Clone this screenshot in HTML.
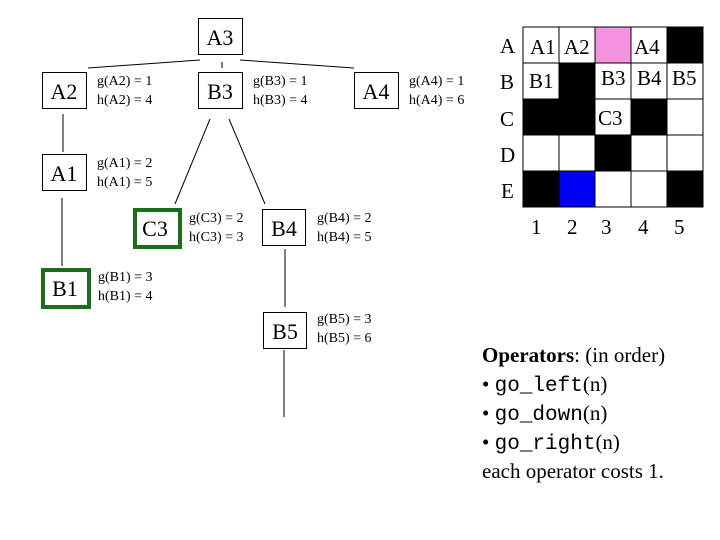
<!DOCTYPE html>
<html><head><meta charset="utf-8"><style>
html,body{margin:0;padding:0;background:#fff;}
svg{display:block;}
.n{font-family:"Liberation Serif",serif;font-size:22px;}
.s{font-family:"Liberation Serif",serif;font-size:14px;}
.g{font-family:"Liberation Serif",serif;font-size:21px;}
.o{font-family:"Liberation Serif",serif;font-size:21px;}
.m{font-family:"Liberation Mono",monospace;}
</style></head><body>
<svg width="720" height="540" xmlns="http://www.w3.org/2000/svg">
<g stroke="#000" stroke-width="1" fill="none">
<line x1="88" y1="68" x2="200" y2="60"/>
<line x1="222" y1="62" x2="222" y2="68"/>
<line x1="240" y1="60" x2="354" y2="68"/>
<line x1="63" y1="114" x2="63" y2="152"/>
<line x1="62" y1="198" x2="62" y2="266"/>
<line x1="210" y1="119" x2="175" y2="204"/>
<line x1="229" y1="119" x2="265" y2="204"/>
<line x1="285" y1="249" x2="285" y2="307"/>
<line x1="284" y1="350" x2="284" y2="417"/>
<rect x="198.5" y="18.5" width="44" height="36"/>
<rect x="42.5" y="72.5" width="44" height="36"/>
<rect x="198.5" y="72.5" width="44" height="36"/>
<rect x="354.5" y="72.5" width="44" height="36"/>
<rect x="42.5" y="154.5" width="44" height="36"/>
<rect x="262.5" y="209.5" width="43" height="36"/>
<rect x="263.5" y="312.5" width="43" height="36"/>
</g>
<g stroke="#1a6e1a" stroke-width="4" fill="none">
<rect x="135" y="210" width="45" height="37"/>
<rect x="43" y="270" width="46" height="37"/>
</g>
<g class="n" text-anchor="middle">
<text x="220" y="45">A3</text>
<text x="64" y="99">A2</text>
<text x="220" y="99">B3</text>
<text x="376" y="99">A4</text>
<text x="64" y="181">A1</text>
<text x="155" y="236">C3</text>
<text x="284" y="236">B4</text>
<text x="65" y="296">B1</text>
<text x="285" y="339">B5</text>
</g>
<g class="s">
<text x="97" y="85">g(A2) = 1</text><text x="97" y="104">h(A2) = 4</text>
<text x="253" y="85">g(B3) = 1</text><text x="253" y="104">h(B3) = 4</text>
<text x="409" y="85">g(A4) = 1</text><text x="409" y="104">h(A4) = 6</text>
<text x="97" y="167">g(A1) = 2</text><text x="97" y="186">h(A1) = 5</text>
<text x="189" y="222">g(C3) = 2</text><text x="189" y="241">h(C3) = 3</text>
<text x="317" y="222">g(B4) = 2</text><text x="317" y="241">h(B4) = 5</text>
<text x="98" y="281">g(B1) = 3</text><text x="98" y="300">h(B1) = 4</text>
<text x="317" y="323">g(B5) = 3</text><text x="317" y="342">h(B5) = 6</text>
</g>
<!-- grid -->
<g stroke="#000" stroke-width="1">
<rect x="523" y="27" width="36" height="36" fill="#fff"/>
<rect x="559" y="27" width="36" height="36" fill="#fff"/>
<rect x="595" y="27" width="36" height="36" fill="#f593e0"/>
<rect x="631" y="27" width="36" height="36" fill="#fff"/>
<rect x="667" y="27" width="36" height="36" fill="#000"/>
<rect x="523" y="63" width="36" height="36" fill="#fff"/>
<rect x="559" y="63" width="36" height="36" fill="#000"/>
<rect x="595" y="63" width="36" height="36" fill="#fff"/>
<rect x="631" y="63" width="36" height="36" fill="#fff"/>
<rect x="667" y="63" width="36" height="36" fill="#fff"/>
<rect x="523" y="99" width="36" height="36" fill="#000"/>
<rect x="559" y="99" width="36" height="36" fill="#000"/>
<rect x="595" y="99" width="36" height="36" fill="#fff"/>
<rect x="631" y="99" width="36" height="36" fill="#000"/>
<rect x="667" y="99" width="36" height="36" fill="#fff"/>
<rect x="523" y="135" width="36" height="36" fill="#fff"/>
<rect x="559" y="135" width="36" height="36" fill="#fff"/>
<rect x="595" y="135" width="36" height="36" fill="#000"/>
<rect x="631" y="135" width="36" height="36" fill="#fff"/>
<rect x="667" y="135" width="36" height="36" fill="#fff"/>
<rect x="523" y="171" width="36" height="36" fill="#000"/>
<rect x="559" y="171" width="36" height="36" fill="#0000f5"/>
<rect x="595" y="171" width="36" height="36" fill="#fff"/>
<rect x="631" y="171" width="36" height="36" fill="#fff"/>
<rect x="667" y="171" width="36" height="36" fill="#000"/>
</g>
<g class="g">
<text x="500" y="53">A</text><text x="500" y="89">B</text><text x="500" y="126">C</text><text x="500" y="162">D</text><text x="501" y="198">E</text>
<text x="530" y="54">A1</text><text x="564" y="54">A2</text><text x="634" y="54">A4</text>
<text x="529" y="88">B1</text><text x="601" y="85">B3</text><text x="637" y="85">B4</text><text x="672" y="85">B5</text>
<text x="598" y="125">C3</text>
<text x="531" y="234">1</text><text x="567" y="234">2</text><text x="601" y="234">3</text><text x="638" y="234">4</text><text x="674" y="234">5</text>
</g>
<g class="o">
<text x="482" y="362"><tspan font-weight="bold">Operators</tspan>: (in order)</text>
<text x="482" y="391">• <tspan class="m" font-size="21">go_left</tspan>(n)</text>
<text x="482" y="420">• <tspan class="m" font-size="21">go_down</tspan>(n)</text>
<text x="482" y="449">• <tspan class="m" font-size="21">go_right</tspan>(n)</text>
<text x="482" y="478">each operator costs 1.</text>
</g>
</svg>
</body></html>
